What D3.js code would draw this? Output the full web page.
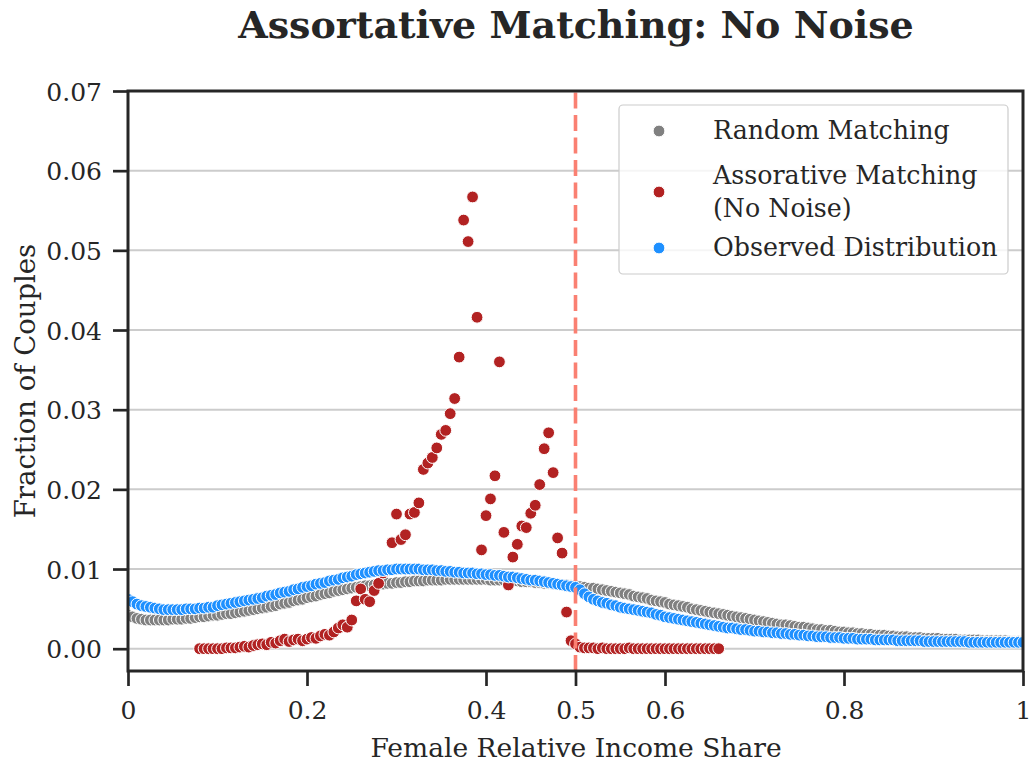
<!DOCTYPE html>
<html>
<head>
<meta charset="utf-8">
<script src="https://cdn.jsdelivr.net/npm/d3@7"></script>
<style>
body { margin:0; background:#fff; }
text { font-family:"DejaVu Serif", serif; fill:#262626; }
</style>
</head>
<body>
<svg id="chart" width="1030" height="764"></svg>
<script>
// income share bins, 0 .. 1 in steps of 0.005
var nBins = 201;
var redStart = 16; // red series starts at bin 16 (0.08)

var xTicks = [0, 0.2, 0.4, 0.5, 0.6, 0.8, 1];
var xTickLabels = ["0", "0.2", "0.4", "0.5", "0.6", "0.8", "1"];
var yTicks = [0, 0.01, 0.02, 0.03, 0.04, 0.05, 0.06, 0.07];
var yTickLabels = ["0.00", "0.01", "0.02", "0.03", "0.04", "0.05", "0.06", "0.07"];

var seriesNames = ["Random Matching", "Assorative Matching|(No Noise)", "Observed Distribution"];

// Random Matching (one row = 10 bins = 0.05)
var randomMatching = [
0.0042,0.0040,0.0038,0.0037,0.0036,0.0036,0.0036,0.0036,0.0036,0.0036,
0.0037,0.0037,0.0037,0.0038,0.0038,0.0039,0.0040,0.0040,0.0041,0.0042,
0.0042,0.0043,0.0044,0.0044,0.0045,0.0046,0.0047,0.0048,0.0049,0.0050,
0.0051,0.0052,0.0053,0.0054,0.0056,0.0057,0.0058,0.0060,0.0061,0.0062,
0.0064,0.0065,0.0066,0.0068,0.0069,0.0070,0.0072,0.0073,0.0074,0.0075,
0.0076,0.0077,0.0078,0.0079,0.0079,0.0080,0.0081,0.0081,0.0082,0.0082,
0.0083,0.0083,0.0084,0.0084,0.0085,0.0085,0.0085,0.0086,0.0086,0.0086,
0.0086,0.0087,0.0087,0.0087,0.0087,0.0087,0.0087,0.0087,0.0087,0.0087,
0.0087,0.0086,0.0086,0.0086,0.0086,0.0085,0.0085,0.0085,0.0084,0.0084,
0.0084,0.0083,0.0083,0.0082,0.0082,0.0081,0.0081,0.0080,0.0080,0.0079,
0.0079,0.0078,0.0077,0.0076,0.0076,0.0075,0.0074,0.0073,0.0072,0.0071,
0.0070,0.0069,0.0068,0.0066,0.0065,0.0064,0.0063,0.0061,0.0060,0.0059,
0.0058,0.0056,0.0055,0.0054,0.0053,0.0052,0.0050,0.0049,0.0048,0.0047,
0.0046,0.0045,0.0044,0.0043,0.0042,0.0041,0.0040,0.0039,0.0038,0.0037,
0.0036,0.0035,0.0034,0.0033,0.0032,0.0031,0.0030,0.0030,0.0029,0.0028,
0.0027,0.0027,0.0026,0.0025,0.0024,0.0024,0.0023,0.0023,0.0022,0.0021,
0.0021,0.0020,0.0020,0.0019,0.0019,0.0018,0.0018,0.0017,0.0017,0.0017,
0.0016,0.0016,0.0015,0.0015,0.0015,0.0014,0.0014,0.0014,0.0013,0.0013,
0.0013,0.0013,0.0012,0.0012,0.0012,0.0012,0.0011,0.0011,0.0011,0.0011,
0.0011,0.0010,0.0010,0.0010,0.0010,0.0010,0.0010,0.0009,0.0009,0.0009,
0.0009
];

// Assortative matching, no noise (bins 0.08 .. 0.66)
var assortative = [
0.0000,0.0000,0.0000,0.0000,
0.0000,0.0000,0.0001,0.0001,0.0001,0.0002,0.0003,0.0002,0.0004,0.0005,
0.0006,0.0005,0.0008,0.0007,0.0010,0.0012,0.0009,0.0011,0.0012,0.0010,
0.0012,0.0014,0.0013,0.0016,0.0018,0.0017,0.0021,0.0026,0.0030,0.0027,
0.0036,0.0060,0.0075,0.0062,0.0059,0.0073,0.0082,0.0095,0.0098,0.0133,
0.0169,0.0137,0.0143,0.0169,0.0171,0.0183,0.0225,0.0233,0.0240,0.0252,
0.0269,0.0274,0.0295,0.0314,0.0366,0.0538,0.0511,0.0567,0.0416,0.0124,
0.0167,0.0188,0.0217,0.0360,0.0146,0.0080,0.0115,0.0131,0.0154,0.0152,
0.0170,0.0180,0.0206,0.0251,0.0271,0.0221,0.0139,0.0120,0.0046,0.0010,
0.0006,0.0002,0.0001,0.0001,0.0001,0.0000,0.0001,0.0000,0.0000,0.0000,
0.0000,0.0000,0.0001,0.0000,0.0000,0.0000,0.0000,0.0000,0.0000,0.0000,
0.0000,0.0000,0.0000,0.0000,0.0000,0.0000,0.0000,0.0000,0.0000,0.0000,
0.0000,0.0000,0.0000
];

// Observed distribution
var observed = [
0.0062,0.0059,0.0056,0.0054,0.0053,0.0052,0.0051,0.0050,0.0049,0.0049,
0.0049,0.0049,0.0049,0.0050,0.0050,0.0050,0.0051,0.0051,0.0052,0.0052,
0.0054,0.0055,0.0056,0.0057,0.0058,0.0059,0.0060,0.0061,0.0062,0.0063,
0.0064,0.0066,0.0067,0.0068,0.0070,0.0071,0.0072,0.0074,0.0075,0.0077,
0.0078,0.0079,0.0081,0.0082,0.0083,0.0085,0.0086,0.0087,0.0089,0.0090,
0.0091,0.0093,0.0094,0.0095,0.0096,0.0097,0.0098,0.0098,0.0099,0.0099,
0.0100,0.0100,0.0100,0.0100,0.0100,0.0100,0.0099,0.0099,0.0099,0.0098,
0.0098,0.0097,0.0097,0.0096,0.0096,0.0095,0.0095,0.0095,0.0094,0.0094,
0.0093,0.0093,0.0092,0.0092,0.0091,0.0090,0.0090,0.0089,0.0088,0.0087,
0.0086,0.0086,0.0085,0.0084,0.0083,0.0082,0.0081,0.0080,0.0079,0.0078,
0.0077,0.0074,0.0069,0.0065,0.0062,0.0060,0.0058,0.0057,0.0055,0.0054,
0.0052,0.0051,0.0050,0.0049,0.0048,0.0047,0.0046,0.0045,0.0043,0.0042,
0.0040,0.0039,0.0038,0.0037,0.0036,0.0035,0.0034,0.0033,0.0032,0.0031,
0.0030,0.0029,0.0028,0.0027,0.0026,0.0026,0.0025,0.0024,0.0024,0.0023,
0.0022,0.0022,0.0021,0.0021,0.0020,0.0020,0.0019,0.0019,0.0018,0.0018,
0.0017,0.0017,0.0016,0.0016,0.0015,0.0015,0.0015,0.0014,0.0014,0.0014,
0.0013,0.0013,0.0013,0.0012,0.0012,0.0012,0.0012,0.0011,0.0011,0.0011,
0.0011,0.0011,0.0010,0.0010,0.0010,0.0010,0.0010,0.0010,0.0009,0.0009,
0.0009,0.0009,0.0009,0.0009,0.0009,0.0009,0.0009,0.0009,0.0008,0.0008,
0.0008,0.0008,0.0008,0.0008,0.0008,0.0008,0.0008,0.0008,0.0008,0.0008,
0.0008
];

var colors = ["#808080", "#b22222", "#1e90ff"];

var svg = d3.select("#chart");
var pLeft = 128, pRight = 1023, pTop = 91, pBottom = 671;
var dotR = 5.9;

var x = d3.scaleLinear().domain([0, 1]).range([pLeft, pRight]);
var y = d3.scaleLinear().domain([-0.0028, 0.07]).range([pBottom, pTop]);

function binX(i) { return i / (nBins - 1); }

// grid lines
svg.append("g").selectAll("line").data(yTicks).enter().append("line")
  .attr("x1", pLeft).attr("x2", pRight)
  .attr("y1", function(d){ return y(d); }).attr("y2", function(d){ return y(d); })
  .attr("stroke", "#cccccc").attr("stroke-width", 2);

svg.append("clipPath").attr("id", "clip").append("rect")
  .attr("x", pLeft).attr("y", pTop).attr("width", pRight - pLeft).attr("height", pBottom - pTop);

var series = [
  randomMatching.map(function(v, i){ return {x: binX(i), y: v}; }),
  assortative.map(function(v, i){ return {x: binX(i + redStart), y: v}; }),
  observed.map(function(v, i){ return {x: binX(i), y: v}; })
];

var dots = svg.append("g").attr("clip-path", "url(#clip)");
series.forEach(function(s, k) {
  dots.append("g").selectAll("circle").data(s).enter().append("circle")
    .attr("cx", function(d){ return x(d.x); })
    .attr("cy", function(d){ return y(d.y); })
    .attr("r", dotR)
    .attr("fill", colors[k])
    .attr("stroke", "#fff").attr("stroke-width", 1);
});

// vertical line at 0.5 (drawn bottom up, like axvline)
svg.append("line")
  .attr("x1", x(0.5)).attr("x2", x(0.5)).attr("y1", pBottom).attr("y2", pTop)
  .attr("stroke", "#fa8072").attr("stroke-width", 3.6).attr("stroke-dasharray", "16,6.5");

// axes
var xAxis = d3.axisBottom(x).tickValues(xTicks).tickSizeOuter(0).tickSize(15).tickPadding(15)
  .tickFormat(function(d, i){ return xTickLabels[i]; });
var yAxis = d3.axisLeft(y).tickValues(yTicks).tickSizeOuter(0).tickSize(15).tickPadding(11)
  .tickFormat(function(d, i){ return yTickLabels[i]; });

var gx = svg.append("g").attr("transform", "translate(0," + pBottom + ")").call(xAxis);
var gy = svg.append("g").attr("transform", "translate(" + pLeft + ",0)").call(yAxis);
[gx, gy].forEach(function(g) {
  g.select(".domain").remove();
  g.selectAll(".tick line").attr("stroke", "#262626").attr("stroke-width", 2.7);
  g.selectAll(".tick text").attr("font-family", "DejaVu Serif").attr("font-size", 25).attr("fill", "#262626");
});
gy.selectAll(".tick text").attr("dy", "0.36em");

// spines
svg.append("rect").attr("x", pLeft).attr("y", pTop).attr("width", pRight - pLeft).attr("height", pBottom - pTop)
  .attr("fill", "none").attr("stroke", "#262626").attr("stroke-width", 3);

// labels
svg.append("text").attr("x", 576).attr("y", 38).attr("text-anchor", "middle")
  .attr("font-size", 38).attr("font-weight", "bold").text("Assortative Matching: No Noise");
svg.append("text").attr("x", 576).attr("y", 757).attr("text-anchor", "middle")
  .attr("font-size", 26.5).text("Female Relative Income Share");
svg.append("text").attr("transform", "translate(35,381) rotate(-90)").attr("text-anchor", "middle")
  .attr("font-size", 27.5).text("Fraction of Couples");

// legend
var lg = svg.append("g");
lg.append("rect").attr("x", 619).attr("y", 105).attr("width", 389).attr("height", 169).attr("rx", 4)
  .attr("fill", "#fff").attr("fill-opacity", 0.8).attr("stroke", "#cccccc").attr("stroke-width", 1.2);
var legendY = [131, 192, 248];
seriesNames.forEach(function(name, k) {
  lg.append("circle").attr("cx", 659).attr("cy", legendY[k]).attr("r", dotR)
    .attr("fill", colors[k]).attr("stroke", "#fff").attr("stroke-width", 1);
  var lines = name.split("|");
  var t = lg.append("text").attr("x", 713).attr("font-size", 25.3);
  lines.forEach(function(l, j) {
    t.append("tspan").attr("x", 713)
      .attr("y", legendY[k] + 8 + (lines.length > 1 ? (j - 0.5) * 33 : 0)).text(l);
  });
});
</script>
</body>
</html>
